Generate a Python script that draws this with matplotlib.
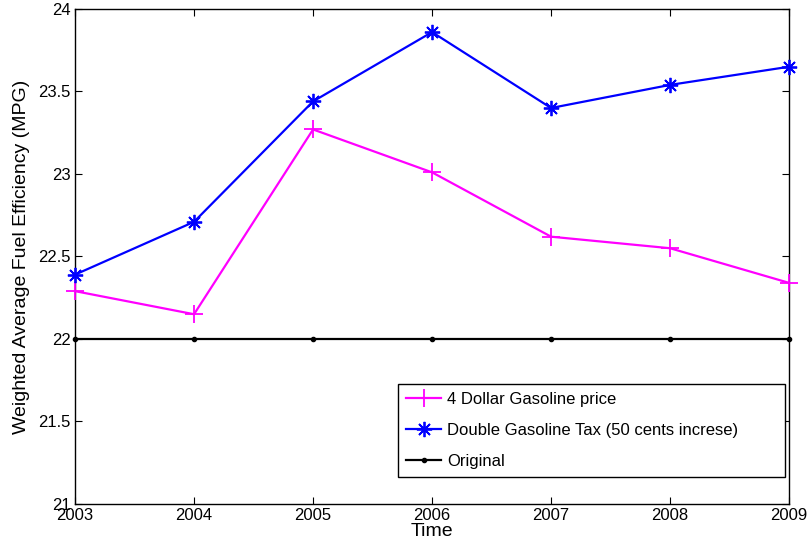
import matplotlib
matplotlib.use("Agg")
import matplotlib.pyplot as plt

years = [2003, 2004, 2005, 2006, 2007, 2008, 2009]
gas_price_4 = [22.29, 22.15, 23.27, 23.01, 22.62, 22.55, 22.34]
double_tax = [22.39, 22.71, 23.44, 23.86, 23.40, 23.54, 23.65]
original = [22.0, 22.0, 22.0, 22.0, 22.0, 22.0, 22.0]
y_ticks = [21, 21.5, 22, 22.5, 23, 23.5, 24]

plt.rcParams['font.family'] = ['Liberation Sans', 'DejaVu Sans']

fig = plt.figure(figsize=(8.11, 5.52), dpi=100)
ax = fig.add_axes([0.0925, 0.087, 0.8805, 0.8967])

ax.plot(years, gas_price_4, color='#ff00ff', lw=1.6, marker='+', ms=13, mew=1.3,
        label='4 Dollar Gasoline price', clip_on=False, zorder=3)
ax.plot(years, double_tax, color='#0000ff', lw=1.6, marker=(8, 2, 0), ms=11, mew=1.3,
        label='Double Gasoline Tax (50 cents increse)', clip_on=False, zorder=4)
ax.plot(years, original, color='black', lw=1.6, marker='.', ms=6,
        label='Original', clip_on=False, zorder=2)

ax.set_xlim(2003, 2009)
ax.set_ylim(21, 24)
ax.set_xticks(years)
ax.set_yticks(y_ticks)
ax.set_yticklabels(['21', '21.5', '22', '22.5', '23', '23.5', '24'])
ax.tick_params(direction='in', length=5, labelsize=12, width=0.8,
               top=True, right=True, pad=3)
for s in ax.spines.values():
    s.set_linewidth(1.0)

ax.set_xlabel('Time', fontsize=14, labelpad=0)
ax.set_ylabel('Weighted Average Fuel Efficiency (MPG)', fontsize=14, labelpad=6)

leg = ax.legend(loc='lower left', bbox_to_anchor=(0.452, 0.0545, 0.542, 0.19),
                mode='expand', borderaxespad=0, fontsize=12,
                fancybox=False, edgecolor='black', framealpha=1,
                handlelength=2.1, handletextpad=0.35, borderpad=0.5, labelspacing=0.95)
leg.get_frame().set_linewidth(1.0)

fig.savefig('out.png', dpi=100)
